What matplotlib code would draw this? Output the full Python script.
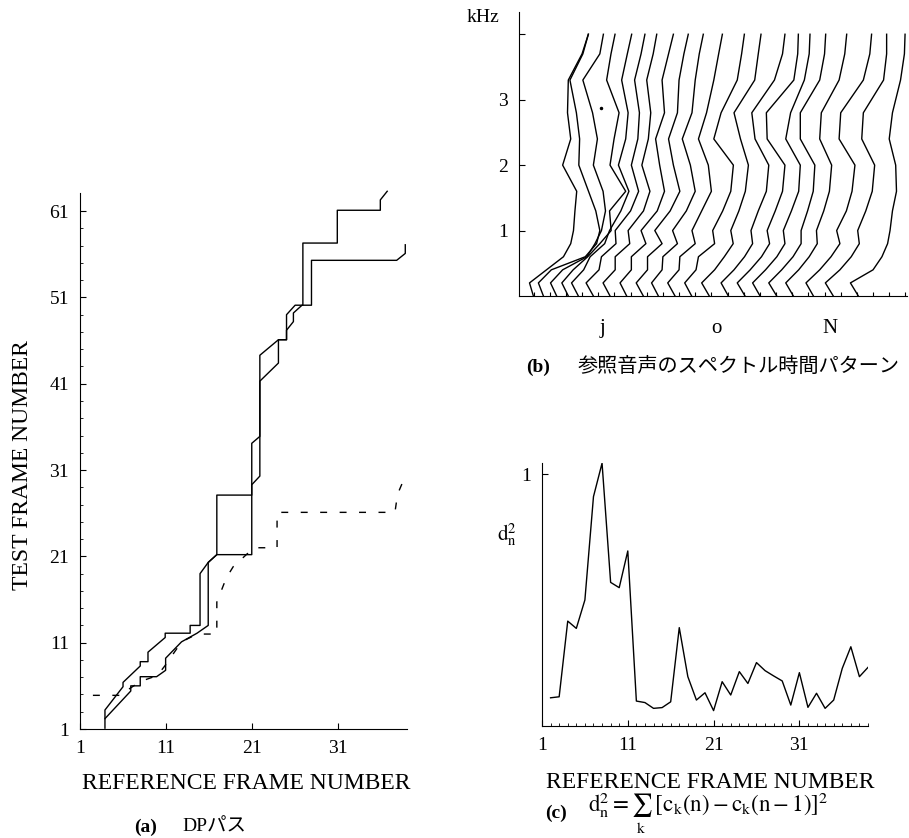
import matplotlib
matplotlib.use("Agg")
import matplotlib.pyplot as plt

plt.rcParams['font.family'] = ['Liberation Serif', 'Noto Sans CJK JP']
plt.rcParams['mathtext.fontset'] = 'stix'

# ---- (a) DP paths: (reference frame, test frame)
path1_x = [3.9, 3.9, 6.0, 6.0, 8.0, 8.0, 8.9, 8.9, 10.9, 10.9, 13.8, 13.8, 14.95, 14.95, 15.9, 16.9,
           16.9, 20.96, 20.96, 21.9, 21.9, 24.06, 25.0, 25.0, 26.0, 26.9, 26.9, 30.9, 30.9, 35.9, 35.9, 36.7]
path1_y = [2.2, 3.2, 5.9, 6.4, 8.3, 8.8, 8.8, 9.9, 11.6, 12.1, 12.1, 13.0, 13.0, 19.0, 20.3, 21.2,
           28.1, 28.1, 34.1, 34.9, 44.3, 46.1, 46.1, 49.0, 50.1, 50.1, 57.3, 57.3, 61.1, 61.1, 62.3, 63.3]
path2_x = [3.9, 3.9, 6.9, 6.9, 8.0, 8.0, 9.9, 10.95, 10.95, 12.8, 14.6, 15.9, 15.9, 16.9, 20.96, 20.96,
           21.9, 21.9, 24.06, 24.06, 25.0, 25.0, 25.8, 25.8, 26.8, 27.9, 27.9, 37.8, 38.8, 38.8]
path2_y = [1.1, 2.2, 5.4, 6.0, 6.0, 7.06, 7.06, 7.8, 9.2, 11.1, 12.1, 13.0, 20.3, 21.2, 21.2, 29.3,
           30.3, 41.3, 43.4, 46.1, 46.1, 47.2, 48.2, 49.2, 50.1, 50.1, 55.3, 55.3, 56.1, 57.1]
path3_x = [2.5, 6.0, 6.5, 8.0, 10.0, 11.0, 12.8, 14.6, 16.9, 16.9, 18.0, 18.8, 21.2, 23.9, 23.9, 37.6, 37.9, 38.8]
path3_y = [4.9, 4.9, 5.5, 6.5, 7.2, 8.5, 11.1, 12.0, 12.0, 15.7, 18.5, 19.8, 22.0, 22.0, 26.1, 26.1, 28.2, 30.3]

# ---- (b) spectral time pattern: x position of each spectrum at these frequencies (kHz)
spec_freq = [0, 0.2, 0.4, 0.6, 0.8, 1.0, 1.3, 1.6, 2.0, 2.4, 2.8, 3.3, 3.7, 4.0]
spec_curves = [
    [0.89, 0.65, 1.70, 2.75, 3.20, 3.37, 3.46, 3.57, 2.70, 3.20, 3.00, 3.05, 3.90, 4.29],
    [1.51, 1.20, 2.00, 4.10, 4.80, 5.00, 4.75, 4.30, 3.70, 3.75, 3.55, 3.15, 3.95, 4.29],
    [2.33, 1.95, 2.70, 4.20, 4.70, 5.10, 5.35, 5.20, 4.60, 4.85, 4.55, 3.95, 5.00, 5.22],
    [3.05, 2.65, 3.35, 4.25, 5.00, 5.70, 5.60, 6.60, 5.63, 5.88, 6.19, 5.42, 5.69, 5.94],
    [3.67, 3.25, 4.00, 4.40, 5.30, 5.60, 6.30, 6.80, 6.15, 6.60, 6.75, 6.35, 6.70, 6.97],
    [4.60, 4.15, 4.95, 5.10, 6.00, 5.95, 6.90, 7.40, 6.95, 7.35, 7.45, 7.15, 7.55, 7.79],
    [5.63, 5.20, 5.95, 5.95, 6.85, 6.75, 7.70, 8.10, 7.60, 8.00, 8.15, 7.90, 8.30, 8.52],
    [6.66, 6.25, 6.95, 6.95, 7.85, 7.55, 8.55, 9.00, 8.70, 8.45, 9.00, 8.85, 9.25, 9.55],
    [7.69, 7.25, 7.95, 7.95, 8.85, 8.40, 9.35, 9.95, 9.55, 9.25, 9.80, 9.90, 10.20, 10.47],
    [8.62, 8.20, 8.85, 8.90, 9.80, 9.50, 10.35, 10.90, 10.60, 10.10, 10.70, 10.90, 11.15, 11.40],
    [9.65, 9.20, 9.90, 9.95, 10.90, 10.70, 11.30, 11.90, 11.71, 11.10, 11.60, 12.05, 12.35, 12.58],
    [10.68, 10.25, 10.95, 11.10, 12.10, 11.98, 12.60, 13.10, 13.26, 12.05, 12.50, 13.50, 13.77, 13.94],
    [11.77, 11.30, 12.10, 12.70, 13.25, 13.10, 13.60, 14.00, 14.19, 13.70, 13.30, 14.58, 14.80, 14.97],
    [12.95, 12.50, 13.30, 13.95, 14.45, 14.35, 14.80, 15.30, 15.45, 14.60, 14.40, 15.80, 16.30, 16.45],
    [13.98, 13.50, 14.30, 15.00, 15.50, 15.35, 15.85, 16.30, 16.45, 15.35, 15.30, 17.00, 17.24, 17.28],
    [14.91, 14.45, 15.25, 15.95, 16.45, 16.35, 16.85, 17.30, 17.40, 16.50, 16.80, 17.65, 17.95, 18.00],
    [15.94, 15.45, 16.25, 16.95, 17.45, 17.45, 17.85, 18.20, 18.30, 17.40, 17.40, 18.60, 18.90, 18.97],
    [16.97, 16.50, 17.30, 17.95, 18.45, 18.40, 18.85, 19.20, 19.34, 18.60, 18.70, 19.80, 20.15, 20.27],
    [18.21, 17.75, 18.60, 19.30, 19.85, 19.65, 20.25, 20.60, 20.78, 19.80, 19.90, 21.30, 21.70, 21.81],
    [19.44, 18.95, 19.85, 20.55, 21.05, 20.95, 21.45, 21.85, 22.00, 21.20, 21.30, 22.55, 22.74, 22.74],
    [20.99, 20.50, 21.90, 22.45, 22.80, 22.95, 23.10, 23.35, 23.30, 22.90, 23.10, 23.60, 23.84, 23.88],
]
spec_ticks = [0.9, 1.9, 2.9, 3.9, 4.9, 5.9, 6.9, 7.9, 8.9, 9.9, 10.9, 11.9, 12.9, 13.9, 14.9, 15.9,
              16.9, 17.9, 18.9, 19.9, 20.9, 21.9, 22.9, 23.9]
phonemes = ['j', 'o', 'N']
phoneme_pos = [5.15, 12.23, 19.24]

# ---- (c) spectral change d_n^2
frames_c = list(range(2, 40))
dn2 = [0.111, 0.115, 0.416, 0.387, 0.500, 0.911, 1.044, 0.570, 0.549, 0.695,
       0.098, 0.092, 0.069, 0.072, 0.095, 0.390, 0.195, 0.102, 0.131, 0.060,
       0.175, 0.122, 0.215, 0.168, 0.251, 0.219, 0.198, 0.178, 0.082, 0.211,
       0.073, 0.129, 0.069, 0.102, 0.228, 0.314, 0.195, 0.232]

W, H = 909, 838
fig = plt.figure(figsize=(W / 100, H / 100), dpi=100)


def style(ax):
    for s in ['top', 'right']:
        ax.spines[s].set_visible(False)
    for s in ['left', 'bottom']:
        ax.spines[s].set_linewidth(0.8)
    ax.tick_params(direction='in', length=4, width=0.8, labelsize=14, pad=8)


def ftext(x, y, s, **kw):
    fig.text(x / W, 1 - y / H, s, ha='center', va='center', **kw)


# (a)
ax_a = fig.add_axes([80 / W, 1 - 729 / H, 327 / W, 536 / H])
style(ax_a)
ax_a.plot(path1_x, path1_y, color='k', lw=1.0, clip_on=False)
ax_a.plot(path2_x, path2_y, color='k', lw=1.0, clip_on=False)
ax_a.plot(path3_x, path3_y, color='k', lw=1.0, dashes=(5, 9), clip_on=False)
ax_a.set_xlim(1, 39)
ax_a.set_ylim(1, 63.1)
ax_a.set_xticks([1, 11, 21, 31])
ax_a.set_yticks([1, 11, 21, 31, 41, 51, 61])
ax_a.set_yticks(range(3, 62, 2), minor=True)
ax_a.tick_params(which='minor', direction='in', length=2, width=0.6)
ftext(23, 465, 'TEST FRAME NUMBER', rotation=90, fontsize=17)
ftext(246, 783, 'REFERENCE FRAME NUMBER', fontsize=17)
ftext(146, 827, '(a)', fontsize=14, fontweight='bold')
ftext(214, 827, 'DPパス', fontsize=14)

# (b)
ax_b = fig.add_axes([519 / W, 1 - 296 / H, 388 / W, 284 / H])
style(ax_b)
for curve in spec_curves:
    ax_b.plot(curve, spec_freq, color='k', lw=1.0, solid_joinstyle='round')
ax_b.plot([5.07], [2.88], 'k.', ms=3)
ax_b.set_xlim(0, 24)
ax_b.set_ylim(0, 4.34)
ax_b.set_yticks([1, 2, 3, 4])
ax_b.set_yticklabels(['1', '2', '3', ''])
ax_b.set_xticks(spec_ticks)
ax_b.set_xticklabels([])
ax_b.tick_params(axis='x', length=3)
for p, lab in zip(phoneme_pos, phonemes):
    ax_b.text(p, -0.49, lab, ha='center', va='center', fontsize=15, clip_on=False)
ftext(483, 17, 'kHz', fontsize=14)
ftext(538, 367, '(b)', fontsize=14, fontweight='bold')
ftext(739, 367, '参照音声のスペクトル時間パターン', fontsize=14.5)

# (c)
ax_c = fig.add_axes([542 / W, 1 - 725.7 / H, 326 / W, 263 / H])
style(ax_c)
ax_c.plot(frames_c, dn2, color='k', lw=1.0)
ax_c.set_xlim(1, 39)
ax_c.set_ylim(0, 1.046)
ax_c.set_xticks([1, 11, 21, 31])
ax_c.set_xticks(range(2, 40), minor=True)
ax_c.set_yticks([1])
ax_c.tick_params(which='minor', direction='in', length=2, width=0.6)
ftext(507, 535, r'$\mathrm{d}_\mathrm{n}^{2}$', fontsize=15)
ftext(710, 782, 'REFERENCE FRAME NUMBER', fontsize=17)
ftext(556, 813, '(c)', fontsize=14, fontweight='bold')
fig.text(588 / W, 1 - 813 / H,
         r'$\mathrm{d}_\mathrm{n}^{2}=\sum_{\mathrm{k}}\ [\mathrm{c}_\mathrm{k}(\mathrm{n})-\mathrm{c}_\mathrm{k}(\mathrm{n}-1)]^{2}$',
         ha='left', va='center', fontsize=16.5)

fig.savefig('out.png', dpi=100, facecolor='white')
